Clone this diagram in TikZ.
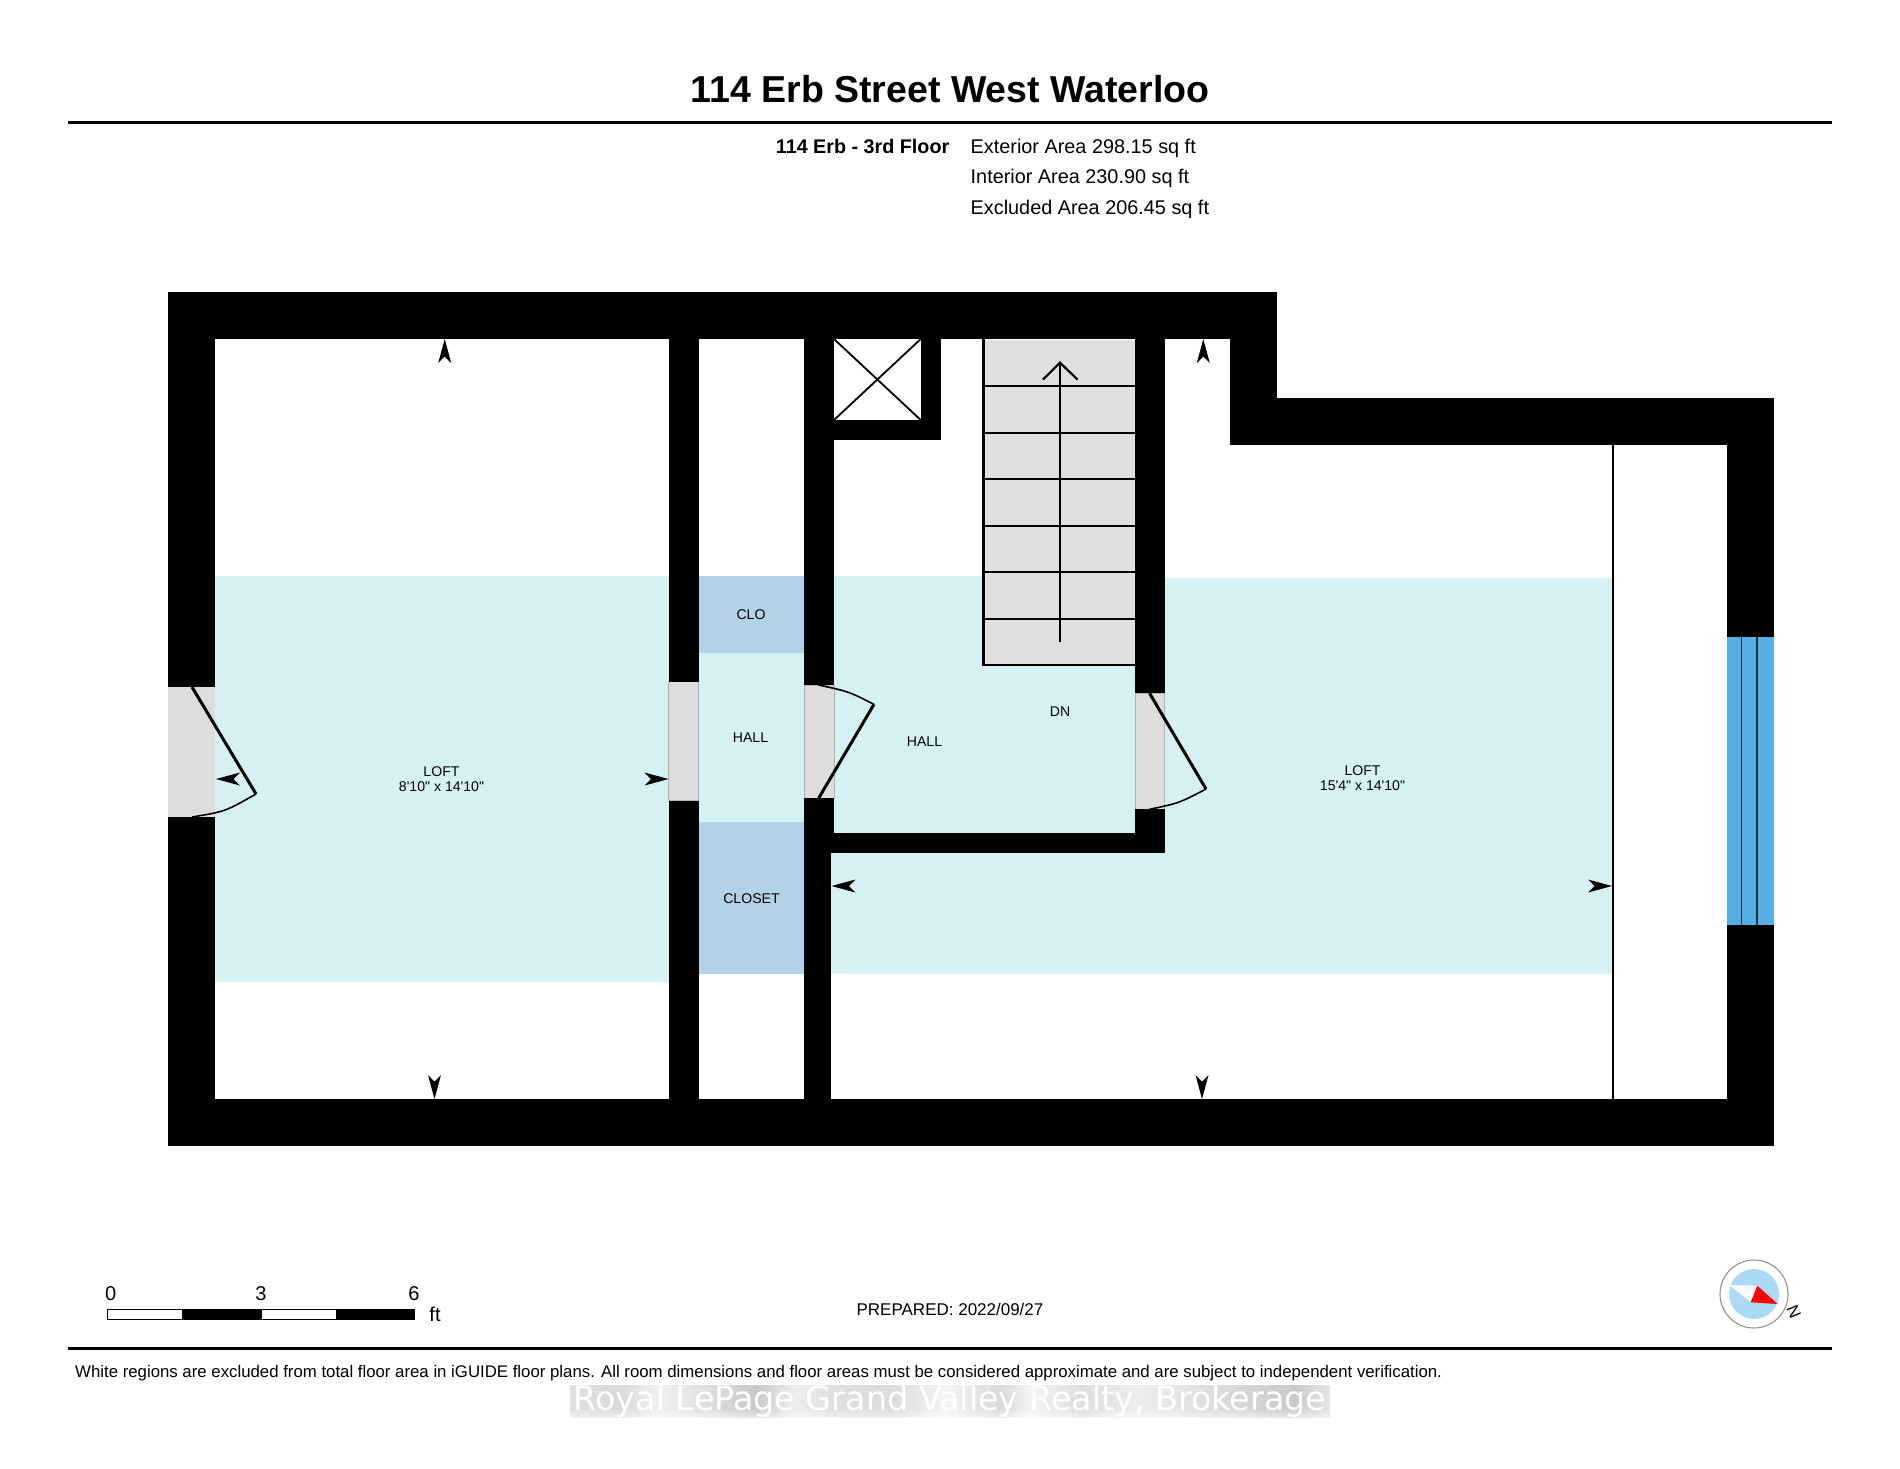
\documentclass[tikz,border=0pt]{standalone}
\usepackage{fontspec}
\usetikzlibrary{fadings}
\setmainfont{Liberation Sans}
\newfontfamily\lib{Liberation Sans}
\newfontfamily\vera{DejaVu Sans}
\definecolor{loftblue}{HTML}{D6F1F3}
\definecolor{closetblue}{HTML}{B3D1E7}
\definecolor{doorgray}{HTML}{DDDDDD}
\definecolor{stairgray}{HTML}{DFDFDF}
\definecolor{winblue}{HTML}{55B0E4}
\definecolor{discblue}{HTML}{ABD9F6}
\newcommand{\fnt}[1]{\lib\fontsize{#1}{#1}\selectfont}
\newcommand{\dimtip}[3]{\begin{scope}[shift={(#1,#2)},rotate=#3]
  \fill[black] (0pt,0pt) -- (-6.5pt,-24pt) -- (0pt,-17.5pt) -- (6.5pt,-24pt) -- cycle;
\end{scope}}
\pgfdeclarehorizontalshading{markbar}{100bp}{
  rgb(0bp)=(.88,.88,.88); rgb(25bp)=(.88,.88,.88); rgb(28.3bp)=(.85,.85,.85);
  rgb(30.6bp)=(.94,.94,.94); rgb(32.9bp)=(.90,.90,.90); rgb(37.2bp)=(.79,.79,.79);
  rgb(39.8bp)=(.93,.93,.93); rgb(42.1bp)=(.88,.88,.88); rgb(46.1bp)=(.86,.86,.86);
  rgb(49.7bp)=(.96,.96,.96); rgb(53.3bp)=(.85,.85,.85); rgb(55.3bp)=(.96,.96,.96);
  rgb(58.6bp)=(.87,.87,.87); rgb(62.2bp)=(.93,.93,.93); rgb(66.4bp)=(.88,.88,.88);
  rgb(72.7bp)=(.79,.79,.79); rgb(75bp)=(.90,.90,.90); rgb(100bp)=(.90,.90,.90)}
\tikzset{
  x=1pt,y=-1pt,
  wall/.style={fill=black,draw=none},
  gap/.style={fill=doorgray,draw=none},
  gapedge/.style={fill=doorgray,draw=black!30,line width=0.6pt},
  leaf/.style={draw=black,line width=3pt},
  swing/.style={draw=black,line width=1.6pt},
  stepline/.style={draw=black,line width=2.2pt},
  txt/.style={anchor=base,inner sep=0pt,text=black},
  roomlabel/.style={txt,font=\fnt{14.1}},
  arealabel/.style={txt,anchor=base west,font=\fnt{19.85}},
  rulebar/.style={draw=black,line width=3.2pt},
  scalebar/.style={draw=black,line width=1pt},
}
\begin{document}
\begin{tikzpicture}
\useasboundingbox (0,0) rectangle (1900,1468);
\fill[white] (0,0) rectangle (1900,1468);

% heading
\node[txt,font={\fnt{37.5}\bfseries}] (title) at (950,102) {114 Erb Street West Waterloo};
\draw[rulebar] (68,122.5) -- (1832,122.5);
\node[txt,anchor=base east,font={\fnt{19.75}\bfseries}] (floor) at (949.5,153.5) {114 Erb - 3rd Floor};
\node[arealabel] (ext) at (970.5,153.5) {Exterior Area 298.15 sq ft};
\node[arealabel] (int) at (970.5,183.2) {Interior Area 230.90 sq ft};
\node[arealabel] (exc) at (970.5,214) {Excluded Area 206.45 sq ft};

% included floor area
\fill[loftblue] (215,575.6) rectangle (669,981.5);
\fill[loftblue] (698,653) rectangle (805,822);
\fill[loftblue] (834,575.6) rectangle (1135,833);
\fill[loftblue] (1164,578.3) rectangle (1612,974);
\fill[loftblue] (831,852) rectangle (1165,974);
\fill[closetblue] (698.6,575.6) rectangle (804,653);
\fill[closetblue] (698.6,822) rectangle (804,974);

% door openings
\fill[gap] (168,687) rectangle (215,817);
\fill[gapedge] (668.6,681.7) rectangle (698.6,800.7);
\fill[gapedge] (804,685) rectangle (834,798.3);
\fill[gapedge] (1135,693.3) rectangle (1164.6,809.3);

% stairs
\fill[stairgray] (983.5,340) rectangle (1134.5,665);
\draw[stepline] (983.5,339) -- (983.5,665) -- (1135,665);
\foreach \yy in {386,432.7,479.3,526,572.3,619.3} {
  \draw[stepline] (983.5,\yy) -- (1135,\yy);
}
\draw[stepline] (1060,642.3) -- (1060,363);
\draw[stepline] (1043,379.5) -- (1060,362.7) -- (1077.5,379.5);

% walls
\fill[wall] (168,292) rectangle (1276.7,339);
\fill[wall] (168,292) rectangle (215,687);
\fill[wall] (168,817) rectangle (215,1145.5);
\fill[wall] (168,1099) rectangle (1774,1145.5);
\fill[wall] (1230,339) rectangle (1276.7,445);
\fill[wall] (1230,398) rectangle (1774,445);
\fill[wall] (1727,398) rectangle (1774,637.4);
\fill[wall] (1727,924.5) rectangle (1774,1145.5);
\fill[wall] (668.6,339) rectangle (698.6,681.7);
\fill[wall] (668.6,800.7) rectangle (698.6,1099);
\fill[wall] (804,339) rectangle (834,685);
\fill[wall] (804,798.3) rectangle (834,852.7);
\fill[wall] (804,852) rectangle (831,1099);
\fill[wall] (804,832.7) rectangle (1164.6,852.7);
\fill[wall] (1135,339) rectangle (1165,693.3);
\fill[wall] (1135,809.3) rectangle (1164.6,852.7);
\fill[wall] (920.7,339) rectangle (940.7,440);
\fill[wall] (834,420) rectangle (940.7,440);

% shaft cross
\draw[black,line width=1.8pt] (834,339) -- (920.7,420);
\draw[black,line width=1.8pt] (920.7,339) -- (834,420);

% window
\fill[winblue] (1727,637.4) rectangle (1774,924.5);
\draw[black!75!winblue,line width=1.8pt] (1741.5,637.4) -- (1741.5,924.5);
\draw[black!75!winblue,line width=1.8pt] (1757,637.4) -- (1757,924.5);

% low-ceiling line
\draw[black,line width=1.8pt] (1613,445) -- (1613,1099);

% doors
\draw[leaf] (192,687) -- (256,794);
\draw[swing] (256,794) .. controls (225.3,811.5) .. (192,817);
\draw[leaf] (818.6,798.3) -- (874,704.3);
\draw[swing] (874,704.3) .. controls (848.7,691.5) .. (818.6,685);
\draw[leaf] (1149.6,693.3) -- (1206,789);
\draw[swing] (1206,789) .. controls (1179.3,803) .. (1149.6,809.3);

% dimension tips
\dimtip{444.7}{339}{0}
\dimtip{1203.3}{339}{0}
\dimtip{434.5}{1099}{180}
\dimtip{1202}{1099}{180}
\dimtip{216}{779}{90}
\dimtip{668.5}{779}{-90}
\dimtip{831.5}{886}{90}
\dimtip{1612}{886}{-90}

% room labels
\node[roomlabel] (loftA) at (441.5,776) {LOFT};
\node[roomlabel] (loftAd) at (441.5,791.5) {8'10" x 14'10"};
\node[roomlabel] (clo) at (751,619) {CLO};
\node[roomlabel] (hallA) at (750.5,742) {HALL};
\node[roomlabel] (closet) at (751.5,903) {CLOSET};
\node[roomlabel] (hallB) at (924.5,746) {HALL};
\node[roomlabel] (dn) at (1060,716) {DN};
\node[roomlabel] (loftB) at (1362.5,775) {LOFT};
\node[roomlabel] (loftBd) at (1362.5,790.5) {15'4" x 14'10"};

% scale bar
\draw[scalebar,fill=white] (107.5,1309.5) rectangle (182.7,1319);
\draw[scalebar,fill=black] (182.7,1309.5) rectangle (261.3,1319);
\draw[scalebar,fill=white] (261.3,1309.5) rectangle (336,1319);
\draw[scalebar,fill=black] (336,1309.5) rectangle (414.3,1319);
\node[txt,font=\fnt{20}] (s0) at (110.7,1300) {0};
\node[txt,font=\fnt{20}] (s3) at (261,1300) {3};
\node[txt,font=\fnt{20}] (s6) at (414,1300) {6};
\node[txt,font=\fnt{20}] (sft) at (435,1321) {ft};

\node[txt,font=\fnt{17}] (prep) at (950,1315) {PREPARED: 2022/09/27};

% compass
\draw[gray!85,line width=1.1pt,fill=white] (1754,1294) circle[radius=34pt];
\fill[discblue] (1754,1294) circle[radius=25pt];
\fill[white] (1729.3,1285) -- (1757.3,1285.7) -- (1750.7,1302.3) -- cycle;
\fill[red] (1757.3,1285.7) -- (1777.7,1304) -- (1750.7,1302.3) -- cycle;
\node[inner sep=0pt,rotate=-67,font=\fnt{17}] (north) at (1794,1311.7) {N};

% footer
\draw[rulebar] (68,1348.8) -- (1832,1348.8);
\node[txt,anchor=base west,font=\fnt{16.79}] (note) at (75,1377.5) {White regions are excluded from total floor area in iGUIDE floor plans. All room dimensions and floor areas must be considered approximate and are subject to independent verification.};

% watermark
\shade[shading=markbar] (570,1385) rectangle (1330,1417.7);
\fill[white,opacity=.6,path fading=north] (570,1408) rectangle (1330,1417.7);
\node[txt,text=white,font={\vera\fontsize{33.4}{33.4}\selectfont}] (mark) at (950,1410) {Royal LePage Grand Valley Realty, Brokerage};
\end{tikzpicture}
\end{document}
